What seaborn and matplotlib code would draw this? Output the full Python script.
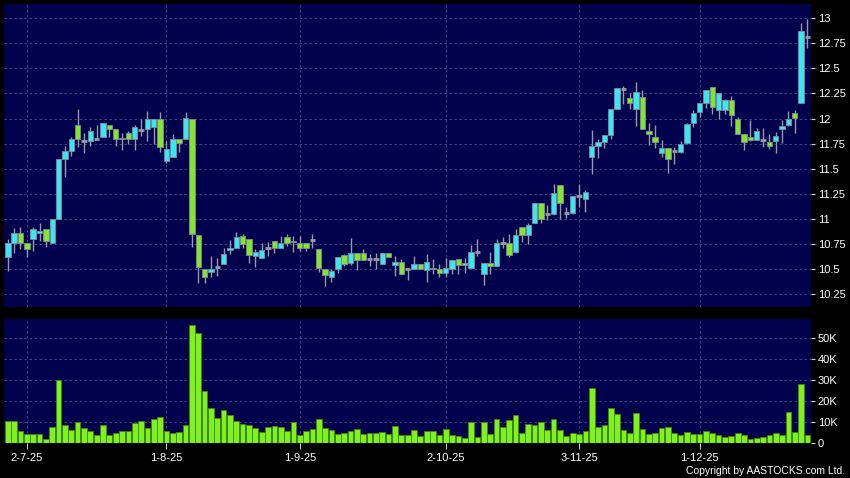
import numpy as np
import pandas as pd
import seaborn as sns
import matplotlib.pyplot as plt
from matplotlib.ticker import FuncFormatter

# daily candles
opens = [10.62, 10.76, 10.86, 10.76, 10.80, 10.86, 10.90, 10.76, 11.00, 11.60,
         11.68, 11.94, 11.78, 11.78, 11.80, 11.82, 11.94, 11.90, 11.81, 11.86,
         11.80, 11.89, 11.90, 11.92, 12.00, 11.58, 11.62, 11.80, 11.80, 12.00,
         10.84, 10.50, 10.47, 10.52, 10.55, 10.69, 10.71, 10.83, 10.80, 10.63,
         10.61, 10.71, 10.78, 10.71, 10.82, 10.77, 10.76, 10.76, 10.79, 10.70,
         10.50, 10.42, 10.50, 10.64, 10.56, 10.66, 10.66, 10.60, 10.60, 10.55,
         10.66, 10.54, 10.57, 10.50, 10.50, 10.55, 10.49, 10.51, 10.50, 10.46,
         10.50, 10.60, 10.54, 10.51, 10.67, 10.45, 10.56, 10.53, 10.76, 10.76,
         10.67, 10.92, 10.84, 10.96, 11.16, 11.05, 11.05, 11.34, 11.06, 11.06,
         11.23, 11.20, 11.62, 11.73, 11.77, 11.84, 12.10, 12.29, 12.20, 12.10,
         12.21, 11.88, 11.82, 11.66, 11.71, 11.68, 11.67, 11.76, 11.96, 12.07,
         12.16, 12.31, 12.09, 12.09, 12.18, 12.00, 11.85, 11.82, 11.79, 11.79,
         11.77, 11.78, 11.90, 11.94, 12.06, 12.16, 12.81]
highs = [10.80, 10.91, 10.92, 10.76, 10.92, 10.96, 10.90, 11.00, 11.60, 11.73,
         11.82, 12.10, 11.86, 11.92, 11.94, 11.96, 11.94, 11.90, 11.86, 11.88,
         11.94, 12.00, 12.08, 12.00, 12.07, 11.78, 11.85, 11.80, 12.07, 12.00,
         10.84, 10.50, 10.63, 10.61, 10.71, 10.79, 10.87, 10.85, 10.80, 10.70,
         10.76, 10.77, 10.78, 10.83, 10.85, 10.83, 10.83, 10.76, 10.85, 10.70,
         10.50, 10.50, 10.62, 10.65, 10.81, 10.66, 10.70, 10.65, 10.66, 10.66,
         10.66, 10.63, 10.60, 10.50, 10.63, 10.55, 10.65, 10.60, 10.55, 10.61,
         10.59, 10.60, 10.61, 10.74, 10.80, 10.56, 10.67, 10.80, 10.82, 10.85,
         10.90, 10.92, 10.96, 11.16, 11.16, 11.14, 11.35, 11.34, 11.12, 11.23,
         11.35, 11.29, 11.89, 11.80, 11.84, 12.10, 12.30, 12.32, 12.25, 12.36,
         12.28, 11.96, 11.94, 11.79, 11.71, 11.72, 11.78, 11.96, 12.09, 12.16,
         12.28, 12.31, 12.25, 12.19, 12.22, 12.02, 11.85, 11.99, 11.91, 11.91,
         11.85, 11.87, 11.99, 12.08, 12.09, 12.95, 12.99]
lows = [10.48, 10.66, 10.70, 10.62, 10.68, 10.78, 10.72, 10.76, 11.00, 11.42,
        11.63, 11.72, 11.66, 11.73, 11.79, 11.82, 11.82, 11.73, 11.69, 11.75,
        11.69, 11.83, 11.78, 11.75, 11.67, 11.56, 11.62, 11.67, 11.80, 10.72,
        10.36, 10.36, 10.42, 10.43, 10.55, 10.65, 10.71, 10.71, 10.56, 10.52,
        10.61, 10.63, 10.66, 10.71, 10.73, 10.67, 10.68, 10.68, 10.71, 10.47,
        10.33, 10.37, 10.46, 10.53, 10.54, 10.49, 10.59, 10.53, 10.50, 10.55,
        10.62, 10.43, 10.45, 10.39, 10.50, 10.50, 10.37, 10.45, 10.42, 10.42,
        10.45, 10.45, 10.46, 10.51, 10.63, 10.34, 10.45, 10.53, 10.71, 10.62,
        10.66, 10.77, 10.75, 10.96, 10.96, 10.99, 11.05, 11.00, 11.01, 11.05,
        11.12, 11.07, 11.45, 11.61, 11.71, 11.80, 12.10, 12.15, 12.10, 11.93,
        11.90, 11.74, 11.71, 11.62, 11.46, 11.55, 11.66, 11.75, 11.92, 12.02,
        12.11, 12.05, 12.00, 12.05, 11.93, 11.85, 11.69, 11.78, 11.79, 11.72,
        11.70, 11.66, 11.76, 11.93, 11.86, 12.16, 12.70]
closes = [10.76, 10.86, 10.76, 10.70, 10.90, 10.88, 10.78, 11.00, 11.60, 11.68,
          11.80, 11.80, 11.78, 11.88, 11.80, 11.96, 11.90, 11.80, 11.80, 11.80,
          11.92, 11.89, 12.00, 12.00, 11.72, 11.70, 11.80, 11.76, 12.01, 10.85,
          10.52, 10.42, 10.50, 10.52, 10.65, 10.71, 10.82, 10.75, 10.64, 10.67,
          10.69, 10.71, 10.71, 10.76, 10.76, 10.78, 10.71, 10.71, 10.79, 10.51,
          10.44, 10.48, 10.62, 10.55, 10.66, 10.59, 10.59, 10.60, 10.60, 10.66,
          10.62, 10.57, 10.45, 10.50, 10.55, 10.50, 10.57, 10.50, 10.46, 10.51,
          10.59, 10.54, 10.56, 10.67, 10.67, 10.56, 10.53, 10.76, 10.76, 10.64,
          10.84, 10.84, 10.94, 11.16, 11.00, 11.05, 11.26, 11.16, 11.06, 11.23,
          11.23, 11.27, 11.73, 11.77, 11.84, 12.10, 12.30, 12.29, 12.16, 12.26,
          11.90, 11.85, 11.77, 11.71, 11.60, 11.68, 11.75, 11.95, 12.06, 12.16,
          12.28, 12.12, 12.25, 12.18, 12.04, 11.85, 11.77, 11.79, 11.88, 11.79,
          11.73, 11.83, 11.93, 12.00, 12.01, 12.87, 12.81]
# volume in thousands of shares
volumes_k = [10.6, 10.6, 5.6, 4.4, 4.4, 4.4, 2.1, 7.9, 30.2, 8.7,
             6.3, 10.3, 7.1, 5.6, 3.7, 8.7, 3.7, 4.8, 5.6, 5.6,
             9.7, 10.6, 7.1, 11.6, 12.7, 5.6, 4.8, 5.2, 8.7, 56.0,
             52.4, 25.0, 16.7, 11.9, 15.9, 13.5, 10.6, 9.2, 8.7, 7.1,
             5.2, 7.5, 8.3, 7.6, 5.6, 10.3, 4.0, 5.6, 6.8, 11.6,
             7.1, 6.3, 4.4, 4.8, 5.9, 6.7, 4.3, 5.1, 4.9, 5.2,
             4.4, 8.4, 4.0, 4.1, 6.3, 3.5, 5.6, 5.6, 3.7, 7.0,
             4.0, 3.5, 2.4, 10.3, 2.9, 10.0, 4.4, 11.6, 7.5, 11.1,
             13.2, 5.1, 9.0, 8.7, 10.0, 6.3, 11.4, 6.2, 3.5, 4.7,
             4.3, 5.7, 26.4, 7.9, 8.5, 16.9, 14.1, 6.2, 5.1, 14.2,
             6.6, 4.3, 4.7, 7.1, 7.9, 5.1, 3.9, 5.4, 4.3, 4.6,
             5.8, 4.7, 3.8, 3.0, 3.5, 4.7, 3.8, 2.2, 2.7, 3.2,
             3.8, 5.1, 3.8, 15.0, 5.4, 28.3, 3.8]

date_labels = ['2-7-25', '1-8-25', '1-9-25', '2-10-25', '3-11-25', '1-12-25']
date_pos = [4, 26, 47, 70, 91, 110]
price_ticks = [10.25, 10.5, 10.75, 11, 11.25, 11.5, 11.75, 12, 12.25, 12.5, 12.75, 13]
vol_ticks = [0, 10, 20, 30, 40, 50]

df = pd.DataFrame({'day': np.arange(1, len(opens) + 1), 'open': opens, 'high': highs,
                   'low': lows, 'close': closes, 'volume': volumes_k})

navy = '#00004c'
cyan = '#3ce6f0'
green = '#84e62c'
vol_green = '#80f020'
wick = '#9a9aa6'
grid_c = '#4e4e86'

sns.set_style('dark', {'axes.facecolor': navy, 'figure.facecolor': 'black'})
plt.rcParams['font.family'] = ['Liberation Sans', 'DejaVu Sans']

fig = plt.figure(figsize=(8.5, 4.78), dpi=100, facecolor='black')
ax1 = fig.add_axes([0.0047, 0.3567, 0.9494, 0.635])
ax2 = fig.add_axes([0.0047, 0.0722, 0.9494, 0.2598])

# candles
up = df.close > df.open
down = df.close < df.open
flat = ~(up | down)
ax1.vlines(df.day, df.low, df.high, color=wick, lw=1, zorder=2)
ax1.bar(df.day[up], (df.close - df.open)[up], bottom=df.open[up], width=0.85,
        color=cyan, edgecolor='#7e8c96', linewidth=0.6, zorder=3)
ax1.bar(df.day[down], (df.open - df.close)[down], bottom=df.close[down], width=0.85,
        color=green, edgecolor='#7e8c96', linewidth=0.6, zorder=3)
ax1.hlines(df.close[flat], df.day[flat] - 0.42, df.day[flat] + 0.42, color=wick, lw=2, zorder=3)

# volume
sns.barplot(data=df, x='day', y='volume', native_scale=True, color=vol_green,
            saturation=1, width=0.9, edgecolor='#3c8a00', linewidth=0.6, ax=ax2)

for ax in (ax1, ax2):
    ax.set_xlim(0.4, 127.55)
    ax.set_xticks(date_pos)
    ax.set_axisbelow(True)
    ax.grid(True, color=grid_c, linestyle=(0, (3, 3)), linewidth=0.6)
    ax.yaxis.tick_right()
    ax.tick_params(axis='y', colors='#d0d0d0', labelcolor='white', labelsize=8,
                   length=3, width=0.8, pad=2, left=False, right=True)
    ax.set_xlabel('')
    ax.set_ylabel('')
    for s in ax.spines.values():
        s.set_visible(False)

ax1.set_ylim(10.115, 13.143)
ax1.set_yticks(price_ticks)
ax1.yaxis.set_major_formatter(FuncFormatter(lambda v, p: f'{v:g}'))
ax1.tick_params(axis='x', length=0, labelbottom=False)

ax2.set_ylim(-0.1, 58.9)
ax2.set_yticks(vol_ticks)
ax2.yaxis.set_major_formatter(FuncFormatter(lambda v, p: '0' if v == 0 else f'{v:g}K'))
ax2.set_xticklabels(date_labels)
ax2.tick_params(axis='x', colors='#c8c8c8', labelcolor='white', labelsize=8,
                length=4, width=0.8, pad=3, bottom=True)

fig.text(0.994, 0.004, 'Copyright by AASTOCKS.com Ltd.', color='white',
         fontsize=7.5, ha='right', va='bottom')

fig.savefig('out.png', dpi=100, facecolor='black')
